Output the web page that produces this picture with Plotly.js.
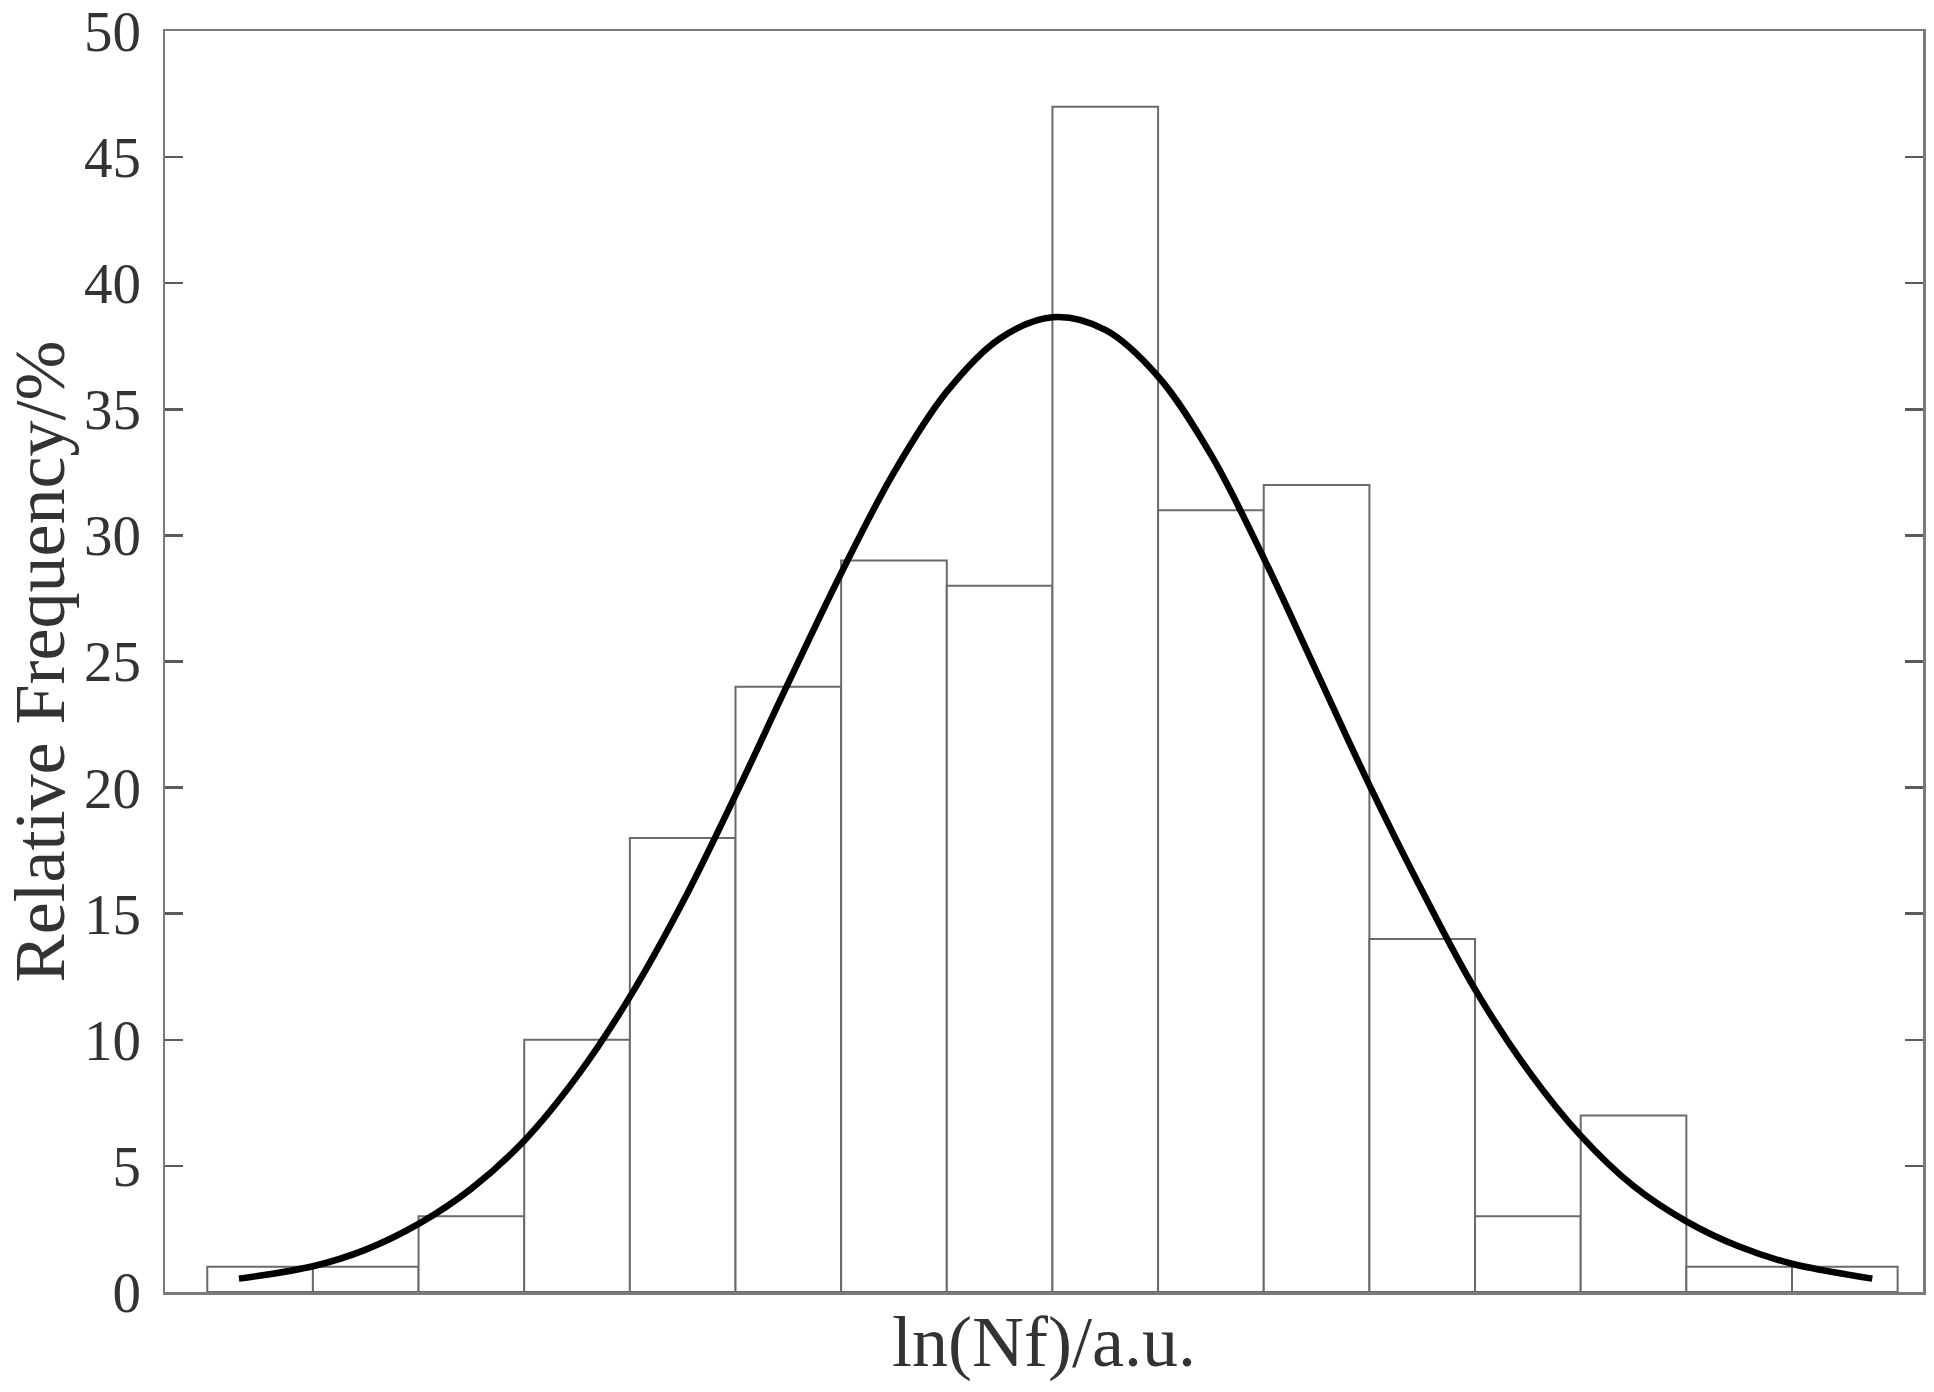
<!DOCTYPE html>
<html>
<head>
<meta charset="utf-8">
<script src="https://cdn.plot.ly/plotly-3.0.1.min.js"></script>
<style>
  html, body { margin: 0; padding: 0; background: #ffffff; }
  #chart { width: 1934px; height: 1392px; }
</style>
</head>
<body>
<div id="chart"></div>
<script>
// Histogram bins (bin index along ln(Nf), arbitrary units)
const binIndex = [0, 1, 2, 3, 4, 5, 6, 7, 8, 9, 10, 11, 12, 13, 14, 15];
// Relative frequency of each bin (%)
const relFreq = [1, 1, 3, 10, 18, 24, 29, 28, 47, 31, 32, 14, 3, 7, 1, 1];

// Fitted normal curve
const fitX = [-0.2, 0.5, 1.0, 1.5, 2.0, 2.5, 3.0, 3.5, 4.0, 4.5, 5.0, 5.5, 6.0, 6.5, 7.0, 7.5,
              8.0, 8.5, 9.0, 9.5, 10.0, 10.5, 11.0, 11.5, 12.0, 12.5, 13.0, 13.5, 14.0, 14.5, 15.26];
const fitY = [0.53, 1.02, 1.68, 2.7, 4.1, 6.0, 8.55, 11.7, 15.45, 19.7, 24.15, 28.5, 32.5, 35.7, 37.8, 38.65,
              38.15, 36.3, 33.2, 29.1, 24.6, 20.1, 15.9, 12.0, 8.8, 6.2, 4.2, 2.8, 1.8, 1.12, 0.53];

const yTitle = 'Relative Frequency/%';
const xTitle = 'ln(Nf)/a.u.';

const serif = 'Liberation Serif, Times New Roman, serif';
const textColor = '#333333';
const frameColor = '#7a7a7a';

const traces = [
  {
    type: 'bar',
    x: binIndex,
    y: relFreq,
    width: 1,
    marker: { color: '#ffffff', line: { color: '#6a6a6a', width: 2 } },
    hoverinfo: 'x+y',
    showlegend: false
  },
  {
    type: 'scatter',
    mode: 'lines',
    x: fitX,
    y: fitY,
    line: { color: '#000000', width: 6.5, shape: 'spline', smoothing: 1 },
    showlegend: false
  }
];

const layout = {
  width: 1934,
  height: 1392,
  paper_bgcolor: '#ffffff',
  plot_bgcolor: '#ffffff',
  margin: { l: 165, r: 11, t: 31, b: 100, pad: 0 },
  bargap: 0,
  showlegend: false,
  font: { family: serif, color: textColor, size: 57 },
  xaxis: {
    range: [-0.9, 15.74],
    showgrid: false,
    zeroline: false,
    showticklabels: false,
    ticks: '',
    showline: true,
    linecolor: frameColor,
    linewidth: 2.5,
    mirror: true,
    title: { text: xTitle, font: { family: serif, size: 72, color: textColor }, standoff: 22 },
    automargin: false
  },
  yaxis: {
    range: [0, 50],
    dtick: 5,
    tick0: 0,
    showgrid: false,
    zeroline: false,
    ticks: 'inside',
    ticklen: 18,
    tickwidth: 2.5,
    tickcolor: '#5a5a5a',
    showline: true,
    linecolor: frameColor,
    linewidth: 2.5,
    mirror: 'ticks',
    ticklabelstandoff: 10,
    ticklabeloverflow: 'allow',
    tickfont: { family: serif, size: 57, color: textColor },
    title: { text: yTitle, font: { family: serif, size: 72, color: textColor }, standoff: 24 },
    automargin: false
  }
};

Plotly.newPlot('chart', traces, layout, { displayModeBar: false, staticPlot: true });
</script>
</body>
</html>
